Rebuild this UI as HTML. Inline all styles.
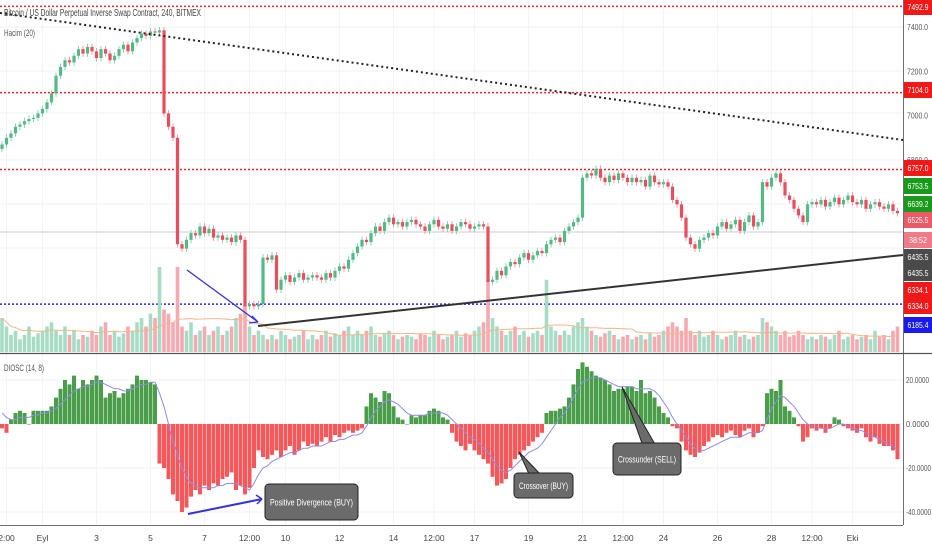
<!DOCTYPE html>
<html><head><meta charset="utf-8">
<style>
html,body{margin:0;padding:0;background:#fff;}
body{width:932px;height:550px;overflow:hidden;font-family:"Liberation Sans",sans-serif;}
svg text{font-family:"Liberation Sans",sans-serif;}
</style></head>
<body>
<svg id="chart" width="932" height="550" viewBox="0 0 932 550">
<g id="grid"></g>
<g id="hlines"></g>
<g id="vol"></g>
<g id="candles"></g>
<g id="osc"></g>
<g id="draw"></g>
<g id="axes"></g>
</svg>
<script>
const closes=[6870,6900,6920,6950,6960,6975,6985,6990,7010,7030,
7060,7100,7180,7220,7250,7240,7270,7300,7280,7310,
7290,7260,7300,7280,7250,7270,7300,7320,7290,7330,
7350,7370,7360,7380,7375,7385,7010,6950,6900,6420,
6400,6440,6470,6460,6500,6470,6490,6450,6460,6440,
6450,6430,6460,6440,6140,6150,6140,6150,6360,6350,
6370,6215,6260,6280,6250,6270,6290,6260,6270,6280,
6270,6260,6290,6270,6300,6320,6310,6350,6380,6410,
6440,6430,6470,6500,6480,6520,6540,6510,6520,6500,
6520,6530,6510,6500,6480,6510,6530,6500,6490,6510,
6480,6500,6520,6510,6490,6500,6510,6500,6250,6260,
6300,6280,6320,6340,6330,6360,6380,6350,6370,6390,
6380,6420,6440,6450,6430,6480,6500,6520,6540,6720,
6740,6730,6760,6720,6700,6730,6710,6740,6720,6700,
6720,6700,6710,6680,6730,6700,6690,6700,6680,6620,
6600,6540,6450,6420,6400,6440,6450,6470,6460,6500,
6520,6490,6510,6530,6480,6520,6550,6500,6520,6700,
6680,6720,6740,6700,6640,6620,6580,6550,6520,6600,
6610,6600,6620,6590,6610,6630,6600,6620,6640,6610,
6600,6620,6580,6600,6610,6590,6580,6600,6570,6560];
const volumes=[40,30,20,25,15,20,30,18,22,25,
30,35,25,20,30,20,25,15,20,18,
25,20,30,35,20,25,18,22,30,25,
35,40,30,45,40,100,50,45,35,100,
30,25,35,20,25,30,20,25,30,20,
25,30,40,45,55,30,20,25,20,15,
20,15,25,20,15,18,20,25,15,20,
15,20,25,18,22,20,25,30,20,25,
20,25,30,20,18,22,25,20,15,18,
20,18,15,22,20,18,25,20,15,18,
20,25,18,22,20,25,30,35,85,40,
30,25,20,25,30,20,25,18,22,25,
20,85,30,25,20,25,20,30,35,40,
30,25,20,18,22,25,20,15,18,20,
15,18,20,15,22,18,20,25,30,35,
30,25,40,25,20,25,18,20,25,20,
15,18,20,25,18,20,15,18,20,40,
35,30,25,20,25,18,20,25,20,15,
18,15,20,18,15,20,25,15,18,20,
15,18,20,15,25,18,20,15,25,30];
const oscHist=[-2,-4,2,5,6,5,0,6,6,6,
6,8,12,16,20,18,22,16,20,18,
20,22,20,12,14,15,12,14,16,18,
22,20,20,19,18,-18,-20,-25,-32,-35,
-40,-38,-33,-30,-32,-28,-30,-27,-28,-25,
-24,-22,-30,-28,-32,-29,-20,-12,-15,-16,
-14,-12,-15,-12,-10,-14,-12,-8,-10,-9,
-10,-8,-6,-8,-5,-6,-4,-3,-4,-3,
-2,8,14,12,10,15,14,8,3,2,
0,4,3,4,4,6,7,6,3,2,
-4,-8,-10,-12,-9,-12,-14,-16,-18,-24,
-28,-27,-25,-20,-16,-14,-12,-10,-8,-6,
-4,5,6,6,7,8,12,18,25,28,
26,24,22,21,20,18,15,16,16,17,
17,15,20,14,15,12,8,5,3,-1,
-2,-8,-12,-14,-15,-13,-10,-8,-6,-5,
-6,-4,-3,-5,-6,-3,-2,-6,-4,-1,
14,16,15,20,8,6,3,-1,-8,-6,
-2,-3,-2,-4,-2,3,2,-1,-2,-3,
-4,-2,-6,-8,-6,-9,-10,-10,-12,-16];
const oscSignal=[5,3,2,2,3,3,3,4,4,5,
5,6,7,9,11,13,15,16,17,17,
18,19,19,18,17,16,16,15,15,16,
17,18,18,19,19,14,8,0,-8,-14,
-20,-24,-27,-28,-29,-29,-29,-29,-28,-28,
-27,-27,-27,-28,-29,-30,-27,-23,-20,-19,
-17,-16,-15,-14,-13,-13,-12,-11,-11,-10,
-10,-10,-9,-8,-8,-7,-7,-6,-5,-5,
-4,-1,3,6,8,10,11,10,9,7,
5,4,4,4,4,5,5,5,5,4,
2,0,-2,-4,-6,-7,-9,-11,-13,-16,
-19,-21,-22,-21,-19,-17,-15,-13,-12,-11,
-9,-6,-3,0,3,5,8,12,16,19,
20,21,21,21,20,19,18,17,17,17,
17,16,16,16,16,15,13,10,7,3,
0,-3,-6,-9,-11,-12,-12,-11,-10,-9,
-8,-7,-6,-6,-6,-5,-4,-4,-4,-3,
2,7,10,13,12,10,8,5,2,0,
-1,-1,-2,-2,-2,-1,0,0,-1,-2,
-3,-3,-4,-5,-6,-7,-8,-9,-10,-12];
const priceTicks=[7400,7200,7000,6800];
const oscTicks=[20,0,-20,-40];
const timeLabels=["2:00","Eyl","3","5","7","12:00","10","12","14","12:00","17","19","21","12:00","24","26","28","12:00","Eki"];
const timeIdx=[1,9,21,33,45,55,63,75,87,96,105,117,129,138,147,159,171,180,189];
const levelPrices=[7492.9,7104,6757];
const bluePrice=6150;

const NS="http://www.w3.org/2000/svg";
function mk(tag,attrs,parent){const e=document.createElementNS(NS,tag);for(const k in attrs)e.setAttribute(k,attrs[k]);parent.appendChild(e);return e;}
const xAt=i=>2+i*4.5;
const yP=p=>160-(p-6800)*0.2217;
const yO=v=>424-v*2.2;
const yV=v=>352-v*0.85;
const G=id=>document.getElementById(id);

[27,71,113,160,204,248].forEach(y=>{const l=mk('line',{x1:0,x2:903,y1:y,y2:y,stroke:'#eef0f3','stroke-width':1},G('grid'));

});
oscTicks.forEach(v=>{const l=mk('line',{x1:0,x2:903,y1:yO(v),y2:yO(v),stroke:'#eef0f3','stroke-width':1},G('grid'));

});
timeIdx.forEach(i=>{const l=mk('line',{x1:xAt(i),x2:xAt(i),y1:0,y2:525,stroke:'#f3f4f6','stroke-width':1},G('grid'));

});

levelPrices.forEach(p=>{const l=mk('line',{x1:0,x2:903,y1:yP(p),y2:yP(p),stroke:'#f22',"stroke-width":1.5,"stroke-dasharray":"2,2"},G('hlines'));

});
{const l=mk('line',{x1:0,x2:903,y1:yP(bluePrice),y2:yP(bluePrice),stroke:'#22f',"stroke-width":1.5,"stroke-dasharray":"2,2"},G('hlines'));

}
{const l=mk('line',{x1:0,x2:903,y1:232,y2:232,stroke:'#c8cbd0',"stroke-width":1},G('hlines'));

}

const ma=[];
closes.forEach((c,i)=>{
 const o=i?closes[i-1]:c-20;const up=c>=o;
 const v=mk('rect',{x:xAt(i)-1.8,y:yV(volumes[i]),width:3.6,height:352-yV(volumes[i]),fill:up?'#a6dcc4':'#f6a9b0'},G('vol'));
 
 
 const hi=Math.max(o,c)+15,lo=Math.min(o,c)-15;
 const w=mk('line',{x1:xAt(i),x2:xAt(i),y1:yP(hi),y2:yP(lo),stroke:up?'#8fd3b2':'#f2a0a8','stroke-width':1},G('candles'));
 
 
 const top=yP(Math.max(o,c)),bot=yP(Math.min(o,c));
 const b=mk('rect',{x:xAt(i)-1.6,y:top,width:3.2,height:Math.max(1,bot-top),fill:up?'#53b987':'#eb4d5c'},G('candles'));
 
 
 const s=volumes.slice(Math.max(0,i-19),i+1);ma.push(s.reduce((a,b)=>a+b,0)/s.length);
});
{const l=mk('polyline',{points:ma.map((m,i)=>xAt(i)+','+yV(m)).join(' '),fill:'none',stroke:'#f7b58a','stroke-width':1},G('vol'));

}

oscHist.forEach((v,i)=>{
 const y=Math.min(yO(v),424),h=Math.abs(yO(v)-424);
 const r=mk('rect',{x:xAt(i)-2,y:y,width:4,height:Math.max(h,0.5),fill:v>=0?'#4a9e4a':'#f5575a'},G('osc'));
 
 
});
{const l=mk('polyline',{points:oscSignal.map((v,i)=>xAt(i)+','+yO(v)).join(' '),fill:'none',stroke:'#8c8ce6','stroke-width':1},G('osc'));

}

const D=G('draw');
function ln(a,name,parent){const e=mk('line',a,parent||D);return e;}
ln({x1:0,y1:13,x2:903,y2:140,stroke:'#222','stroke-width':2,'stroke-dasharray':'2,3'},'descending-trendline');
ln({x1:258,y1:326,x2:903,y2:255,stroke:'#333','stroke-width':2},'ascending-trendline');
ln({x1:187,y1:270,x2:258,y2:322,stroke:'#33d','stroke-width':1.3},'price-divergence-arrow');
ln({x1:252,y1:316,x2:258,y2:322,stroke:'#33d','stroke-width':1.3},'price-arrow-head-a');
ln({x1:249,y1:323,x2:258,y2:322,stroke:'#33d','stroke-width':1.3},'price-arrow-head-b');
ln({x1:188,y1:514,x2:262,y2:499,stroke:'#33d','stroke-width':2},'osc-divergence-arrow');
ln({x1:256,y1:495,x2:262,y2:499,stroke:'#33d','stroke-width':1.5},'osc-arrow-head-a');
ln({x1:257,y1:504,x2:262,y2:499,stroke:'#33d','stroke-width':1.5},'osc-arrow-head-b');
function callout(x,y,w,h,txt,tail,name){
 const g=mk('g',{},D);
 if(tail){const t=mk('polygon',{points:tail,fill:'#6b6b6b',stroke:'#222','stroke-width':1},g);}
 const r=mk('rect',{x:x,y:y,width:w,height:h,rx:4,fill:'#6b6b6b',stroke:'#222','stroke-width':1},g);
 
 const t=mk('text',{x:x+5,y:y+h/2+3.5,'font-size':9,fill:'#fff',textLength:w-10,lengthAdjust:'spacingAndGlyphs'},g);t.textContent=txt;
 
}
callout(265,484,93,36,'Positive Divergence (BUY)',null,'positive-divergence-callout');
callout(514,473,59,25,'Crossover (BUY)','519,452 530,476 542,476','crossover-callout');
callout(613,443,68,32,'Crossunder (SELL)','622,387 643,446 656,446','crossunder-callout');

const A=G('axes');
mk('rect',{x:903,y:0,width:29,height:550,fill:'#fff'},A);
mk('rect',{x:0,y:525,width:932,height:25,fill:'#fff'},A);
ln({x1:903.5,y1:0,x2:903.5,y2:525,stroke:'#6b6f78','stroke-width':1},'price-axis-line',A);
ln({x1:0,y1:353.5,x2:932,y2:353.5,stroke:'#555','stroke-width':1.2},'pane-separator',A);
ln({x1:0,y1:525.5,x2:903,y2:525.5,stroke:'#6b6f78','stroke-width':1},'time-axis-line',A);
function tx(x,y,s,txt,fill,name,anchor,len){const a={x:x,y:y,'font-size':s,fill:fill,'text-anchor':anchor||'start'};if(len){a.textLength=len;a.lengthAdjust='spacingAndGlyphs';}
 const t=mk('text',a,A);t.textContent=txt;return t;}
priceTicks.forEach(p=>tx(907,yP(p)+3,8,p.toFixed(1),'#555','price-tick-label','start',21));
oscTicks.forEach(v=>tx(906,yO(v)+3,8,v.toFixed(4),'#555','osc-tick-label','start',v<0?25:23));
timeLabels.forEach((s,i)=>tx(xAt(timeIdx[i]),541,8.5,s,'#444','time-tick-label','middle'));
const tags=[[7492.9,7,'#f21818'],[7104.0,90,'#f21818'],[6757.0,168,'#f21818'],[6753.5,186,'#1a9a1a'],[6639.2,204,'#1a9a1a'],[6525.5,220,'#ec5a68'],['38:52',240,'#f07a85'],[6435.5,257,'#4a4a4a'],[6435.5,273,'#4a4a4a'],[6334.1,290,'#f21818'],[6334.0,306,'#f21818'],[6185.4,325,'#1a1aee']];
tags.forEach(t=>{const r=mk('rect',{x:904,y:t[1]-8,width:28,height:16,fill:t[2]},A);
 tx(918,t[1]+3,8,typeof t[0]==='number'?t[0].toFixed(1):t[0],'#fff','price-tag-label','middle',typeof t[0]==='number'?21:18);});
tx(4,16,10,'Bitcoin / US Dollar Perpetual Inverse Swap Contract, 240, BITMEX','#444','chart-title','start',197);
tx(4,36,9,'Hacim (20)','#555','volume-legend','start',31);
tx(4,371,9,'DIOSC (14, 8)','#555','diosc-legend','start',40);
</script>
</body></html>
